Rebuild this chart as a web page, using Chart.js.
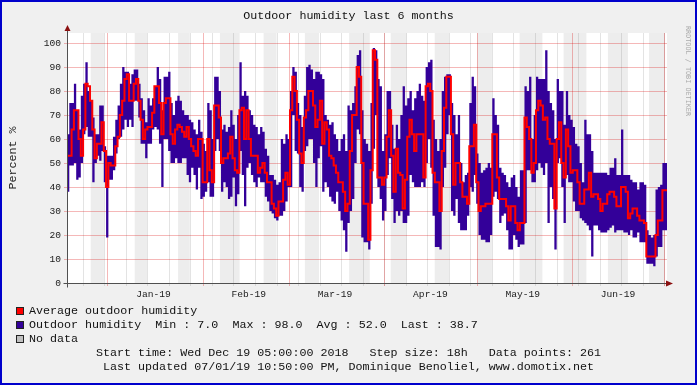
<!DOCTYPE html>
<html>
<head>
<meta charset="utf-8">
<style>
    body { margin: 0; background: #f0f0f0; }
    #wrap { position: relative; width: 697px; height: 385px; overflow: hidden; }
    #chart { position: absolute; left: 0; top: 0; }
    .txt {
        position: absolute;
        font-family: 'Liberation Mono', 'DejaVu Sans Mono', monospace;
        font-size: 11.7px;
        color: #111;
        white-space: pre;
        line-height: 14px;
    }
    .box {
        position: absolute;
        width: 8px; height: 8px;
        box-sizing: border-box;
        border: 1px solid #222;
    }
    #frame {
        position: absolute; left: 0; top: 0; width: 697px; height: 385px;
        box-sizing: border-box; border: 2px solid #0000cc; pointer-events: none;
    }
    #watermark {
        position: absolute; left: 684px; top: 26px;
        writing-mode: vertical-rl;
        font-family: 'DejaVu Sans Mono', monospace;
        font-size: 6.8px; color: #aaaaaa; white-space: pre;
    }
</style>
<script src="https://cdn.jsdelivr.net/npm/chart.js"></script>
</head>
<body>
<div id="wrap">
    <canvas id="chart" width="697" height="385"></canvas>
    <div class="txt" style="left:0;width:697px;top:9px;text-align:center;">Outdoor humidity last 6 months</div>
    <div id="watermark">RRDTOOL / TOBI OETIKER</div>

    <div class="box" style="left:16px;top:307px;background:#ff0000;"></div>
    <div class="txt" style="left:29px;top:304px;">Average outdoor humidity</div>
    <div class="box" style="left:16px;top:321px;background:#330099;"></div>
    <div class="txt" style="left:29px;top:318px;">Outdoor humidity  Min : 7.0  Max : 98.0  Avg : 52.0  Last : 38.7</div>
    <div class="box" style="left:16px;top:335px;background:#c0c0c0;"></div>
    <div class="txt" style="left:29px;top:332px;">No data</div>

    <div class="txt" style="left:0;width:697px;top:346px;text-align:center;">Start time: Wed Dec 19 05:00:00 2018   Step size: 18h   Data points: 261</div>
    <div class="txt" style="left:0;width:697px;top:360px;text-align:center;">Last updated 07/01/19 10:50:00 PM, Dominique Benoliel, www.domotix.net</div>
    <div id="frame"></div>
</div>
<script>
    // 18h consolidated humidity values (percent), one per data point
    var avgHumidity = [
        60,53,53,64,72,72,60,53,64,83,
        82,76,64,52,58,58,67,55,40,50,
        49,49,57,61,70,76,85,87,76,76,
        83,85,76,68,60,64,65,65,71,82,
        82,75,62,75,77,77,62,58,64,66,
        65,63,61,65,60,57,55,53,60,60,
        42,42,60,47,42,74,74,69,50,52,
        52,54,61,52,47,46,72,73,60,72,
        60,53,53,53,46,48,50,46,42,42,
        33,31,28,34,34,43,46,41,72,86,
        80,68,54,50,69,72,80,80,74,65,
        68,76,58,67,64,53,52,49,46,42,
        42,38,30,33,55,70,70,90,86,50,
        33,33,18,47,97,93,44,44,41,44,
        61,72,53,38,56,46,45,31,43,61,
        68,62,55,62,62,62,44,82,83,80,
        46,42,42,30,55,73,86,86,62,41,
        50,50,42,36,36,33,57,57,66,42,
        30,32,32,33,33,33,62,62,44,35,
        35,35,32,26,32,32,25,22,25,25,
        69,65,60,46,50,72,76,74,68,69,
        60,58,58,31,60,67,50,44,64,57,
        46,47,47,42,33,33,39,39,46,36,
        37,37,35,30,33,33,37,38,38,36,
        32,32,40,40,38,27,29,31,31,28,
        26,26,25,11,11,11,11,20,26,26,
        38.7
    ];
    var maxHumidity = [
        73,62,75,75,83,72,64,78,83,92,
        80,76,69,62,62,74,74,57,53,53,
        53,61,68,74,83,90,88,88,83,87,
        89,89,83,77,72,67,77,74,77,82,
        90,85,72,86,86,88,75,70,76,78,
        76,72,70,70,68,67,64,62,68,63,
        58,55,75,72,60,86,86,80,64,66,
        63,65,72,66,60,70,92,78,80,78,
        72,70,66,65,62,65,63,56,53,45,
        45,43,41,42,60,58,62,60,80,90,
        88,75,70,65,78,90,91,89,85,88,
        88,87,85,70,68,66,67,62,60,55,
        60,62,55,74,72,75,82,95,97,72,
        60,58,55,75,98,97,85,82,55,62,
        80,80,66,56,66,60,70,82,74,77,
        80,72,77,80,83,78,76,90,92,93,
        68,60,55,60,80,86,87,87,75,70,
        62,70,50,42,45,46,75,86,82,54,
        50,46,47,48,50,48,77,70,66,48,
        46,45,42,40,44,45,40,36,47,47,
        82,80,86,60,70,86,85,85,85,97,
        80,75,72,60,85,80,80,66,80,70,
        68,65,58,57,50,42,68,62,62,55,
        46,46,46,46,46,46,45,48,48,52,
        45,45,64,45,45,45,43,42,42,39,
        42,42,41,22,20,19,20,39,40,41,
        50
    ];
    var minHumidity = [
        40,38,49,49,50,43,44,50,62,65,
        61,61,42,50,53,51,55,42,19,43,
        43,47,54,60,61,64,68,65,68,65,
        76,76,69,58,58,52,58,58,64,65,
        64,58,40,60,60,55,50,50,52,50,
        50,52,52,45,42,48,45,39,48,35,
        36,38,42,36,36,55,60,55,38,42,
        40,35,36,44,32,37,55,45,32,48,
        50,45,42,40,44,42,42,36,34,30,
        29,27,26,28,28,30,34,40,40,70,
        55,54,40,38,55,57,60,60,50,40,
        52,57,38,42,40,36,34,33,38,30,
        26,22,13,25,30,35,50,64,62,19,
        17,17,14,33,56,70,40,35,26,30,
        45,52,35,25,30,28,30,25,25,28,
        45,42,40,40,40,42,40,50,60,48,
        28,15,15,14,40,48,62,70,30,28,
        35,25,22,22,22,28,40,38,45,33,
        20,18,18,17,17,20,36,38,35,25,
        28,29,22,14,14,20,18,15,16,16,
        25,47,47,42,42,47,50,48,45,50,
        25,40,35,14,50,52,40,25,45,42,
        42,34,30,30,27,26,25,24,22,11,
        24,24,22,21,21,21,22,23,24,21,
        22,22,22,21,21,20,22,19,19,21,
        17,17,17,8,8,8,7,11,15,15,
        22
    ];

    // x axis is in days counted from 2019-01-01 00:00
    var monthLabels = ['Jan-19', 'Feb-19', 'Mar-19', 'Apr-19', 'May-19', 'Jun-19'];
    var monthLabelDays = [15, 46, 74, 105, 135, 166];
    var monthStartDays = [0, 31, 59, 90, 120, 151, 181];
    var yTickValues = [0, 5, 10, 15, 20, 25, 30, 35, 40, 45, 50, 55, 60, 65, 70, 75, 80, 85, 90, 95, 100];
    // light grey background stripes
    var shadeBands = [[-5.4, -1.1], [8.9, 12.9], [23.0, 26.8], [36.6, 43.0], [50.8, 55.0], [64.2, 68.8],
                      [78.6, 85.3], [92.1, 97.2], [106.4, 111.05], [120.15, 125.0], [134.0, 141.4],
                      [148.3, 155.7], [162.7, 169.2], [176.05, 181.15]];

    var xMin = -13.1, xMax = 181.9;
    var barStep = (xMax - xMin) / avgHumidity.length;

    var majorGrid = 'rgba(220,0,0,0.28)';
    var minorGrid = 'rgba(128,128,128,0.22)';

    function toPoints(values) {
        var pts = values.map(function (v, i) { return { x: xMin + i * barStep, y: v }; });
        pts.push({ x: xMin + values.length * barStep, y: values[values.length - 1] });
        return pts;
    }

    var rrdDecor = {
        id: 'rrdDecor',
        beforeDraw: function (chart) {
            var ctx = chart.ctx, a = chart.chartArea, x = chart.scales.x;
            ctx.save();
            ctx.fillStyle = '#f0f0f0';
            ctx.fillRect(0, 0, chart.width, chart.height);
            ctx.fillStyle = '#ffffff';
            ctx.fillRect(a.left, a.top, a.right - a.left, a.bottom - a.top);
            ctx.fillStyle = '#ededed';
            shadeBands.forEach(function (b) {
                var x0 = x.getPixelForValue(b[0]), x1 = x.getPixelForValue(b[1]);
                ctx.fillRect(x0, a.top, x1 - x0, a.bottom - a.top);
            });
            ctx.lineWidth = 1;
            ctx.strokeStyle = minorGrid;
            for (var d = -8; d <= xMax; d += 7) {
                var px = Math.round(x.getPixelForValue(d)) + 0.5;
                ctx.beginPath(); ctx.moveTo(px, a.top); ctx.lineTo(px, a.bottom + 3); ctx.stroke();
            }
            ctx.strokeStyle = majorGrid;
            monthStartDays.forEach(function (d) {
                var px = Math.round(x.getPixelForValue(d)) + 0.5;
                ctx.beginPath(); ctx.moveTo(px, a.top); ctx.lineTo(px, a.bottom + 3); ctx.stroke();
            });
            ctx.restore();
        },
        afterDraw: function (chart) {
            var ctx = chart.ctx, a = chart.chartArea;
            var ax = Math.round(a.left) + 0.5, ay = Math.round(a.bottom) + 0.5;
            ctx.save();
            ctx.strokeStyle = '#505050';
            ctx.lineWidth = 1;
            ctx.beginPath();
            ctx.moveTo(ax, ay + 4); ctx.lineTo(ax, a.top - 4);
            ctx.moveTo(ax - 4, ay); ctx.lineTo(a.right, ay);
            ctx.stroke();
            ctx.fillStyle = '#8b1010';
            ctx.beginPath();
            ctx.moveTo(ax, a.top - 8); ctx.lineTo(ax - 3, a.top - 2); ctx.lineTo(ax + 3, a.top - 2);
            ctx.closePath(); ctx.fill();
            ctx.beginPath();
            ctx.moveTo(a.right + 6, ay); ctx.lineTo(a.right - 1, ay - 3); ctx.lineTo(a.right - 1, ay + 3);
            ctx.closePath(); ctx.fill();
            ctx.restore();
        }
    };

    Chart.defaults.font.family = "'Liberation Mono', 'DejaVu Sans Mono', monospace";
    Chart.defaults.color = '#1a1a1a';

    var chart = new Chart(document.getElementById('chart').getContext('2d'), {
        type: 'line',
        data: {
            datasets: [
                {
                    label: 'min',
                    data: toPoints(minHumidity),
                    stepped: 'after',
                    borderColor: 'rgba(0,0,0,0)',
                    borderWidth: 0,
                    pointRadius: 0,
                    fill: false,
                    order: 3
                },
                {
                    label: 'Outdoor humidity',
                    data: toPoints(maxHumidity),
                    stepped: 'after',
                    borderColor: 'rgba(0,0,0,0)',
                    borderWidth: 0,
                    backgroundColor: '#330099',
                    pointRadius: 0,
                    fill: '-1',
                    order: 2
                },
                {
                    label: 'Average outdoor humidity',
                    data: toPoints(avgHumidity),
                    stepped: 'after',
                    borderColor: '#ff0000',
                    borderWidth: 2,
                    borderJoinStyle: 'miter',
                    pointRadius: 0,
                    fill: false,
                    order: 1
                }
            ]
        },
        options: {
            responsive: false,
            animation: false,
            events: [],
            layout: { padding: { left: 0, top: 33, right: 30, bottom: 82 } },
            plugins: { legend: { display: false }, tooltip: { enabled: false }, filler: { propagate: false } },
            scales: {
                x: {
                    type: 'linear',
                    min: xMin,
                    max: xMax,
                    afterBuildTicks: function (s) {
                        s.ticks = monthLabelDays.map(function (v) { return { value: v }; });
                    },
                    afterFit: function (s) { s.height = 20; },
                    ticks: {
                        autoSkip: false,
                        maxRotation: 0,
                        padding: 6,
                        font: { size: 9.6 },
                        callback: function (v, i) { return monthLabels[i]; }
                    },
                    grid: { display: false, drawTicks: false },
                    border: { display: false }
                },
                y: {
                    min: 0,
                    max: 104.2,
                    afterBuildTicks: function (s) {
                        s.ticks = yTickValues.map(function (v) { return { value: v }; });
                    },
                    afterFit: function (s) { s.width = 67; },
                    ticks: {
                        padding: 3,
                        font: { size: 9.6 },
                        callback: function (v) { return v % 10 === 0 ? String(v) : ''; }
                    },
                    grid: {
                        tickLength: 3,
                        color: function (c) { return c.tick && c.tick.value % 10 === 0 ? majorGrid : minorGrid; },
                        tickColor: function (c) { return c.tick && c.tick.value % 10 === 0 ? majorGrid : minorGrid; }
                    },
                    border: { display: false },
                    title: {
                        display: true,
                        text: 'Percent %',
                        font: { size: 11.7 },
                        padding: { top: 6, bottom: 0 }
                    }
                }
            }
        },
        plugins: [rrdDecor]
    });
</script>
</body>
</html>
